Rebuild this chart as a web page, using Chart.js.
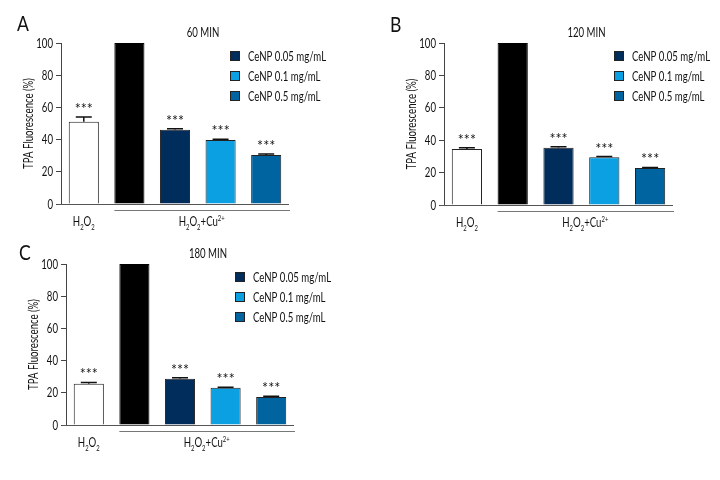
<!DOCTYPE html>
<html><head><meta charset="utf-8">
<script src="https://cdn.jsdelivr.net/npm/chart.js@4"></script>
<style>
html,body{margin:0;padding:0;background:#fff;}
#wrap{position:relative;width:720px;height:480px;background:#fff;}
.pan{position:absolute;width:360px;height:240px;}
</style></head><body>
<div id="wrap">
<div class="pan" style="left:0;top:0"><canvas id="cA" width="360" height="240"></canvas></div>
<div class="pan" style="left:360px;top:0"><canvas id="cB" width="360" height="240"></canvas></div>
<div class="pan" style="left:0;top:240px"><canvas id="cC" width="360" height="240"></canvas></div>
</div>
<script>
// ---- data ----
const categories = ['H2O2', 'H2O2+Cu2+', 'CeNP 0.05 mg/mL', 'CeNP 0.1 mg/mL', 'CeNP 0.5 mg/mL'];
const legendLabels = ['CeNP 0.05 mg/mL', 'CeNP 0.1 mg/mL', 'CeNP 0.5 mg/mL'];
const yTicks = [0, 20, 40, 60, 80, 100];
const panelLetters = ['A', 'B', 'C'];
const panelTitles = ['60 MIN', '120 MIN', '180 MIN'];
const values60 = [51.1, 100, 46.1, 39.7, 30.4];
const errors60 = [3.0, 0, 0.6, 0.5, 0.6];
const values120 = [34.6, 100, 35.3, 29.4, 22.8];
const errors120 = [0.8, 0, 0.6, 0.5, 0.4];
const values180 = [25.6, 100, 28.8, 23.2, 17.4];
const errors180 = [0.8, 0, 0.5, 0.3, 0.4];
const signif = ['***', '', '***', '***', '***'];
const barColors = ['#ffffff', '#000000', '#002d5c', '#0aa0e2', '#0064a1'];

const FONT = "Lato,'Open Sans',sans-serif";
const SX = 0.74; // horizontal condensing of text
const INK = '#111';

function textN(ctx, str, x, y, size, align, base, sx) {
  sx = sx || SX;
  ctx.save();
  ctx.translate(x, y);
  ctx.scale(sx, 1);
  ctx.font = size + 'px ' + FONT;
  ctx.textAlign = align;
  ctx.textBaseline = base;
  ctx.fillText(str, 0, 0);
  ctx.restore();
}

function drawRich(ctx, parts, cx, y, size) {
  const subSize = Math.round(size * 0.62);
  let total = 0;
  parts.forEach(p => {
    ctx.font = (p[1] ? subSize : size) + 'px ' + FONT;
    total += ctx.measureText(p[0]).width * SX;
  });
  let x = cx - total / 2;
  parts.forEach(p => {
    const sz = p[1] ? subSize : size;
    const dy = p[1] === 1 ? 3.5 : (p[1] === 2 ? -5 : 0);
    textN(ctx, p[0], x, y + dy, sz, 'left', 'alphabetic');
    ctx.font = sz + 'px ' + FONT;
    x += ctx.measureText(p[0]).width * SX;
  });
}

const decor = {
  id: 'decor',
  afterDatasetsDraw(chart, args, o) {
    const ctx = chart.ctx;
    const ca = chart.chartArea;
    const ys = chart.scales.y;
    const meta = chart.getDatasetMeta(0);
    ctx.save();
    ctx.fillStyle = INK;
    ctx.strokeStyle = INK;
    // y tick labels
    ys.ticks.forEach(t => {
      textN(ctx, String(t.value), ca.left - 8, ys.getPixelForValue(t.value) + 0.5, 13, 'right', 'middle');
    });
    // error bars and stars
    meta.data.forEach((bar, i) => {
      const v = o.values[i], e = o.errors[i];
      const top = ys.getPixelForValue(v + e);
      if (e > 0) {
        ctx.lineWidth = 1.5;
        ctx.strokeStyle = INK;
        ctx.beginPath();
        ctx.moveTo(bar.x, ys.getPixelForValue(v));
        ctx.lineTo(bar.x, top);
        ctx.moveTo(bar.x - 8, top);
        ctx.lineTo(bar.x + 8, top);
        ctx.stroke();
      }
      if (signif[i]) {
        textN(ctx, signif[i], bar.x, top - 3, 15, 'center', 'alphabetic', 0.95);
      }
    });
    // baseline
    ctx.lineWidth = 1;
    ctx.strokeStyle = '#555';
    ctx.beginPath();
    ctx.moveTo(ca.left - 4, ca.bottom + 0.5);
    ctx.lineTo(ca.right, ca.bottom + 0.5);
    ctx.stroke();
    // bracket under treated group
    const b1 = meta.data[1];
    ctx.strokeStyle = '#777';
    ctx.lineWidth = 1.2;
    ctx.beginPath();
    ctx.moveTo(b1.x - b1.width / 2, ca.bottom + 6.5);
    ctx.lineTo(ca.right + 1, ca.bottom + 6.5);
    ctx.stroke();
    // x labels
    ctx.fillStyle = INK;
    drawRich(ctx, [['H', 0], ['2', 1], ['O', 0], ['2', 1]], meta.data[0].x, ca.bottom + 22, 13);
    drawRich(ctx, [['H', 0], ['2', 1], ['O', 0], ['2', 1], ['+Cu', 0], ['2+', 2]],
      (b1.x - b1.width / 2 + ca.right) / 2, ca.bottom + 22, 13);
    // legend
    legendLabels.forEach((t, k) => {
      const yy = ca.top + 13 + k * 20;
      const sx = ca.right - 59;
      ctx.fillStyle = barColors[k + 2];
      ctx.fillRect(sx, yy - 5, 10, 10);
      ctx.strokeStyle = '#222';
      ctx.lineWidth = 1;
      ctx.strokeRect(sx + 0.5, yy - 4.5, 9, 9);
      ctx.fillStyle = INK;
      textN(ctx, t, sx + 18, yy + 0.5, 13, 'left', 'middle');
    });
    // title
    textN(ctx, o.title, (ca.left + ca.right) / 2 + 28, ca.top - 10, 13, 'center', 'middle');
    // panel letter
    textN(ctx, o.letter, o.letterX, o.letterY, 22, 'left', 'alphabetic', 0.8);
    // y title
    ctx.save();
    ctx.translate(ca.left - 32, (ca.top + ca.bottom) / 2);
    ctx.rotate(-Math.PI / 2);
    textN(ctx, 'TPA Fluorescence (%)', 0, 0, 13, 'center', 'middle');
    ctx.restore();
    ctx.restore();
  }
};

function makePanel(id, values, errors, letter, title, box, letterPos) {
  new Chart(document.getElementById(id), {
    type: 'bar',
    data: {
      labels: categories,
      datasets: [{
        data: values,
        backgroundColor: barColors,
        borderColor: ['#222', '#000', '#222', '#222', '#222'],
        borderWidth: 1,
        categoryPercentage: 1,
        barPercentage: 0.66
      }]
    },
    options: {
      responsive: false,
      animation: false,
      events: [],
      layout: { padding: { left: 0, top: box.top, right: 360 - box.right, bottom: 240 - box.bottom } },
      plugins: {
        legend: { display: false },
        tooltip: { enabled: false },
        decor: { values, errors, letter, title, letterX: letterPos[0], letterY: letterPos[1] }
      },
      scales: {
        x: { display: false },
        y: {
          min: 0, max: 100,
          afterFit: s => { s.width = box.left; },
          afterBuildTicks: s => { s.ticks = yTicks.map(v => ({ value: v })); },
          ticks: { display: false },
          grid: { display: true, drawOnChartArea: false, drawTicks: true, tickLength: 5, color: '#444' },
          border: { display: true, color: '#444', width: 1 }
        }
      }
    },
    plugins: [decor]
  });
}

makePanel('cA', values60, errors60, panelLetters[0], panelTitles[0], { left: 61, right: 289, top: 43, bottom: 204 }, [17, 31]);
makePanel('cB', values120, errors120, panelLetters[1], panelTitles[1], { left: 84, right: 313, top: 43, bottom: 205 }, [30, 32]);
makePanel('cC', values180, errors180, panelLetters[2], panelTitles[2], { left: 66, right: 294, top: 24, bottom: 185 }, [19, 20]);
</script>
</body></html>
